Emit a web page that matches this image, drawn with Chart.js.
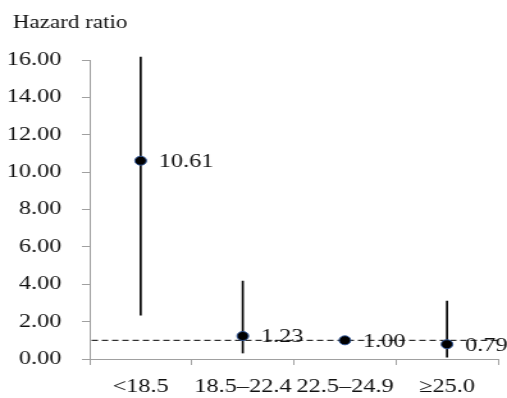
<!DOCTYPE html>
<html>
<head>
<meta charset="utf-8">
<script src="https://cdn.jsdelivr.net/npm/chart.js@4"></script>
<style>
  body { margin: 0; background: #fff; }
</style>
</head>
<body>
<!-- the reference is stretched sideways, so the canvas is too -->
<canvas id="myChart" width="396" height="398" style="width:507px;height:398px;display:block;"></canvas>
<script>
var categories = ['<18.5', '18.5\u201322.4', '22.5\u201324.9', '\u226525.0'];
var hazardRatio = [10.61, 1.23, 1.00, 0.79];
var ciLower = [2.35, 0.32, null, 0.10];
var ciUpper = [16.15, 4.17, null, 3.10];
var yTicks = [0, 2, 4, 6, 8, 10, 12, 14, 16];
var refValue = 1;

var serif = '"Liberation Serif", "Times New Roman", serif';

var ciBars = ciLower.map(function (lo, i) {
    return lo === null ? null : [lo, ciUpper[i]];
});

// dashed line at HR = 1
var refLine = {
    id: 'refLine',
    beforeDatasetsDraw: function (chart) {
        var ctx = chart.ctx;
        var area = chart.chartArea;
        var y = chart.scales.y.getPixelForValue(refValue);
        ctx.save();
        ctx.strokeStyle = '#000';
        ctx.lineWidth = 1;
        ctx.setLineDash([5, 3]);
        ctx.beginPath();
        ctx.moveTo(area.left + 1.5, y);
        ctx.lineTo(area.right, y);
        ctx.stroke();
        ctx.restore();
    }
};

// value labels next to the points + the axis caption
var labels = {
    id: 'labels',
    afterDatasetsDraw: function (chart) {
        var ctx = chart.ctx;
        var meta = chart.getDatasetMeta(1);
        ctx.save();
        ctx.fillStyle = '#111';
        ctx.font = '19px ' + serif;
        ctx.textBaseline = 'middle';
        ctx.textAlign = 'left';
        meta.data.forEach(function (pt, i) {
            ctx.fillText(hazardRatio[i].toFixed(2), pt.x + 14, pt.y + 1.5);
        });
        ctx.font = '18px ' + serif;
        ctx.textBaseline = 'alphabetic';
        ctx.fillText('Hazard ratio', 10, 28);
        ctx.restore();
    }
};

var ctx = document.getElementById('myChart').getContext('2d');
var chart = new Chart(ctx, {
    type: 'bar',
    data: {
        labels: categories,
        datasets: [{
            type: 'bar',
            data: ciBars,
            backgroundColor: '#000',
            borderWidth: 0,
            barThickness: 1,
            grouped: false,
            clip: false,
            order: 2
        }, {
            type: 'line',
            data: hazardRatio,
            showLine: false,
            pointRadius: 4.5,
            pointBackgroundColor: '#000',
            pointBorderColor: '#2f5597',
            pointBorderWidth: 1,
            order: 1
        }]
    },
    plugins: [refLine, labels],
    options: {
        responsive: false,
        animation: false,
        layout: { padding: { top: 60, right: 7, left: 0, bottom: 0 } },
        plugins: {
            legend: { display: false },
            tooltip: { enabled: false }
        },
        scales: {
            x: {
                offset: true,
                grid: {
                    offset: true,
                    drawOnChartArea: false,
                    color: '#a0a0a0',
                    tickLength: 6
                },
                border: { color: '#a0a0a0' },
                ticks: {
                    color: '#111',
                    font: { family: serif, size: 19 },
                    padding: 11,
                    maxRotation: 0,
                    autoSkip: false
                },
                afterFit: function (scale) { scale.height = 39; }
            },
            y: {
                min: 0,
                max: 16,
                afterBuildTicks: function (scale) {
                    scale.ticks = yTicks.map(function (v) { return { value: v }; });
                },
                grid: {
                    drawOnChartArea: false,
                    color: '#a0a0a0',
                    tickLength: 6
                },
                border: { color: '#a0a0a0' },
                ticks: {
                    color: '#111',
                    font: { family: serif, size: 19 },
                    padding: 16,
                    callback: function (v) { return Number(v).toFixed(2); }
                },
                afterFit: function (scale) { scale.width = 70; }
            }
        }
    }
});
</script>
</body>
</html>
